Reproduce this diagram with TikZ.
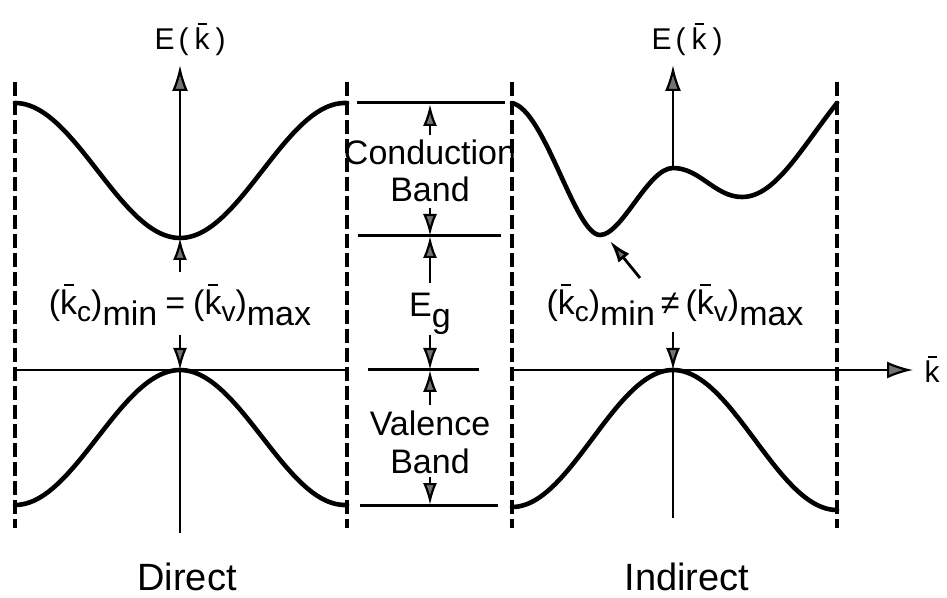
\documentclass[tikz,border=0pt]{standalone}
\usepackage{fontspec}
\setmainfont{Liberation Sans}
\usetikzlibrary{arrows.meta}

\newcommand{\lowr}[1]{\raisebox{-0.3em}{#1}}
\newcommand{\smsub}[1]{\raisebox{-0.2em}{\fontsize{14}{14}\selectfont #1}}
\newcommand{\kbar}{\makebox[0pt][l]{\kern0.1em\raisebox{0.84em}{\rule{0.3em}{0.07em}}}k}

\begin{document}
\begin{tikzpicture}[
  x=0.5pt, y=-0.5pt,
  band/.style={line width=2.3pt, line cap=round},
  axis/.style={line width=1pt},
  edge/.style={line width=1.6pt, dash pattern=on 7pt off 2.5pt},
  level/.style={line width=1.5pt},
  tip/.style={-{Latex[length=11pt, width=7pt, fill=black!55]}, line width=1.1pt},
  bigtip/.style={-{Latex[length=13pt, width=8pt, fill=black!55]}, line width=1.1pt},
  lab/.style={inner sep=0pt, anchor=base, font=\fontsize{17}{20}\selectfont},
  small/.style={lab, font=\fontsize{15}{18}\selectfont},
  big/.style={lab, font=\fontsize{19}{22}\selectfont}
]
  \useasboundingbox (0,0) rectangle (947,598);

  % zone borders
  \foreach \xx in {15, 347, 512, 837}
    \draw[edge] (\xx,82) -- (\xx,528);

  % direct gap
  \draw[band] plot[domain=15:347, samples=90] (\x, {170.5 + 67.5*cos((\x-180)/165*180)});
  \draw[band] plot[domain=15:347, samples=90] (\x, {437.5 - 67.5*cos((\x-180)/165*180)});

  \coordinate (cminL) at (180,238);
  \coordinate (vmaxL) at (180,370);
  \draw[bigtip] (cminL) -- (180,65) coordinate (topL);
  \draw[tip] (180,272) coordinate (upL) -- (cminL);
  \draw[tip] (180,335) coordinate (dnL) -- (vmaxL);
  \draw[axis] (vmaxL) -- (180,533) coordinate (botL);
  \draw[axis] (15,370) coordinate (kL) -- (347,370) coordinate (kR);

  \node[small] (eL) at (190,50) {E\kern2pt(\kern3pt\kbar\kern3pt)};
  \node[lab] (eqL) at (180,315)
    {(\kbar\smsub{c})\lowr{min}\kern4pt=\kern4pt(\kbar\smsub{v})\lowr{max}};
  \node[big] (direct) at (187,590) {Direct};

  % band levels
  \draw[level] (357,103) -- (505,103);
  \draw[level] (358,236) -- (501,236);
  \draw[level] (368,370) -- (479,370);
  \draw[level] (360,505) -- (498,505);

  \node[lab] (cond) at (430,165) {Conduction};
  \node[lab] (condb) at (430,202) {Band};
  \node[lab] (gap) at (430,317) {E\lowr{g}};
  \node[lab] (val) at (430,435) {Valence};
  \node[lab] (valb) at (430,473) {Band};

  \draw[tip] (430,135) -- (430,104);
  \draw[tip] (430,208) -- (430,236);
  \draw[tip] (430,283) -- (430,236);
  \draw[tip] (430,335) -- (430,370);
  \draw[tip] (430,405) -- (430,370);
  \draw[tip] (430,477) -- (430,505);

  % indirect gap
  \draw[band] (512,103) .. controls (545,110) and (575,235) .. (600,235)
    coordinate (cminR)
    .. controls (622,235) and (648,168) .. (673,168) coordinate (cmid)
    .. controls (700,168) and (715,197) .. (742,197)
    .. controls (775,197) and (800,150) .. (837,103);
  \draw[band] plot[domain=512:673, samples=60] (\x, {438.5 - 68.5*cos((\x-673)/161*180)});
  \draw[band] plot[domain=673:837, samples=60] (\x, {440 - 70*cos((\x-673)/164*180)});

  \coordinate (vmaxR) at (673,370);
  \draw[bigtip] (cmid) -- (673,65) coordinate (topR);
  \draw[tip] (673,332) coordinate (dnR) -- (vmaxR);
  \draw[axis] (vmaxR) -- (673,518) coordinate (botR);
  \draw[-{Latex[length=13pt, width=8.5pt, fill=black!55]}, line width=1.1pt]
    (512,370) coordinate (kR0) -- (913,370) coordinate (kend);
  \draw[tip, line width=1.4pt] (640,278) coordinate (ptr) -- (610,241);

  \node[small] (eR) at (687,50) {E\kern2pt(\kern3pt\kbar\kern3pt)};
  \node[lab] (eqR) at (675,315)
    {(\kbar\smsub{c})\lowr{min}\kern3pt≠\kern3pt(\kbar\smsub{v})\lowr{max}};
  \node[big] (indirect) at (687,590) {Indirect};
  \node[lab, font=\fontsize{15}{17}\selectfont] (kax) at (932,383) {\kbar};
\end{tikzpicture}
\end{document}
